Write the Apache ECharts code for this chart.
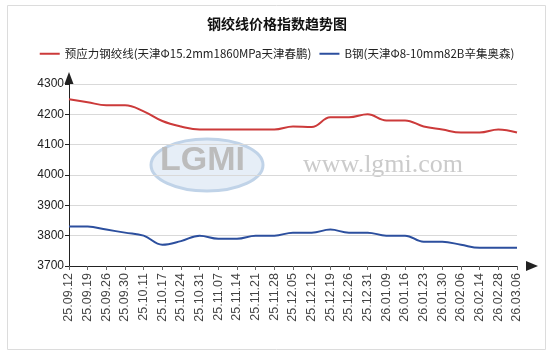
<!DOCTYPE html>
<html><head><meta charset="utf-8">
<script src="https://cdn.jsdelivr.net/npm/echarts@6/dist/echarts.min.js"></script>
<style>html,body{margin:0;padding:0;background:#fff}#c{width:554px;height:354px}</style>
</head><body><div id="c"></div>
<script>
var titleText = '钢绞线价格指数趋势图';
var seriesNames = ['预应力钢绞线(天津Φ15.2mm1860MPa天津春鹏)', 'B钢(天津Φ8-10mm82B辛集奥森)'];
var categories = ['25.09.12','25.09.19','25.09.26','25.09.30','25.10.11','25.10.17','25.10.24','25.10.31','25.11.07','25.11.14','25.11.21','25.11.28','25.12.05','25.12.12','25.12.19','25.12.26','25.12.31','26.01.09','26.01.16','26.01.23','26.01.30','26.02.06','26.02.14','26.02.28','26.03.06'];
var strandValues = [4250,4240,4230,4230,4210,4178,4160,4150,4150,4150,4150,4150,4160,4158,4190,4190,4200,4180,4180,4160,4150,4140,4140,4150,4140];
var bSteelValues = [3830,3830,3820,3810,3800,3770,3782,3800,3790,3790,3800,3800,3810,3810,3820,3810,3810,3800,3800,3780,3780,3770,3760,3760,3760];
var yMin = 3700, yMax = 4300, yStep = 100;

var chart = echarts.init(document.getElementById('c'), null, {renderer:'canvas'});
var axisFont = 'Liberation Sans, Arial, sans-serif';
chart.setOption({
  animation:false,
  backgroundColor:'#fff',
  title:{text:titleText,left:'center',top:12,textStyle:{fontFamily:'Noto Sans CJK SC',fontSize:14,fontWeight:'bold',color:'#111'}},
  legend:{top:43,left:'center',itemWidth:20,itemHeight:2,itemGap:8,icon:'rect',
    textStyle:{fontFamily:'Noto Sans CJK SC',fontSize:11.5,color:'#222'},
    data:seriesNames},
  graphic:[
    {type:'rect',shape:{x:7.5,y:5.5,width:538,height:344},style:{fill:'none',stroke:'#dcdcdc',lineWidth:1},z:-10},
    {type:'ellipse',shape:{cx:207,cy:165,rx:56,ry:26},style:{fill:'#e6eef7',stroke:'#c0d3e8',lineWidth:3},z:-5},
    {type:'text',left:160,top:144,style:{text:'LGMI',font:'bold 34px Liberation Sans',fill:'#bcbcbc'},z:-4},
    {type:'text',left:303,top:152,style:{text:'www.lgmi.com',font:'26px Liberation Serif',fill:'#cbcbcb'},z:-4}
  ],
  grid:{left:69,right:37,top:84,bottom:88,containLabel:false},
  xAxis:{type:'category',data:categories,boundaryGap:false,
    axisLine:{lineStyle:{color:'#222',width:1},symbol:['none','triangle'],symbolSize:[10,12],symbolOffset:[0,15]},
    axisTick:{show:true,alignWithLabel:true,length:4,lineStyle:{color:'#666'}},
    axisLabel:{rotate:90,interval:0,margin:7,fontSize:12.5,fontFamily:axisFont,color:'#444'},
    splitLine:{show:false}},
  yAxis:{type:'value',min:yMin,max:yMax,interval:yStep,
    axisLine:{show:true,lineStyle:{color:'#222',width:1},symbol:['none','triangle'],symbolSize:[9,12],symbolOffset:[0,6]},
    axisTick:{show:true,length:4,lineStyle:{color:'#222'}},
    axisLabel:{margin:5,fontSize:12,fontFamily:axisFont,color:'#222',formatter:function(v){return String(v);}},
    splitLine:{lineStyle:{color:'#d9d9d9',width:1}}},
  series:[
    {name:seriesNames[0],type:'line',data:strandValues,smooth:0.4,showSymbol:false,symbol:'none',
      lineStyle:{color:'#cc3a3a',width:2},itemStyle:{color:'#cc3a3a'}},
    {name:seriesNames[1],type:'line',data:bSteelValues,smooth:0.4,showSymbol:false,symbol:'none',
      lineStyle:{color:'#2c4f9e',width:2},itemStyle:{color:'#2c4f9e'}}
  ]
});
</script></body></html>
